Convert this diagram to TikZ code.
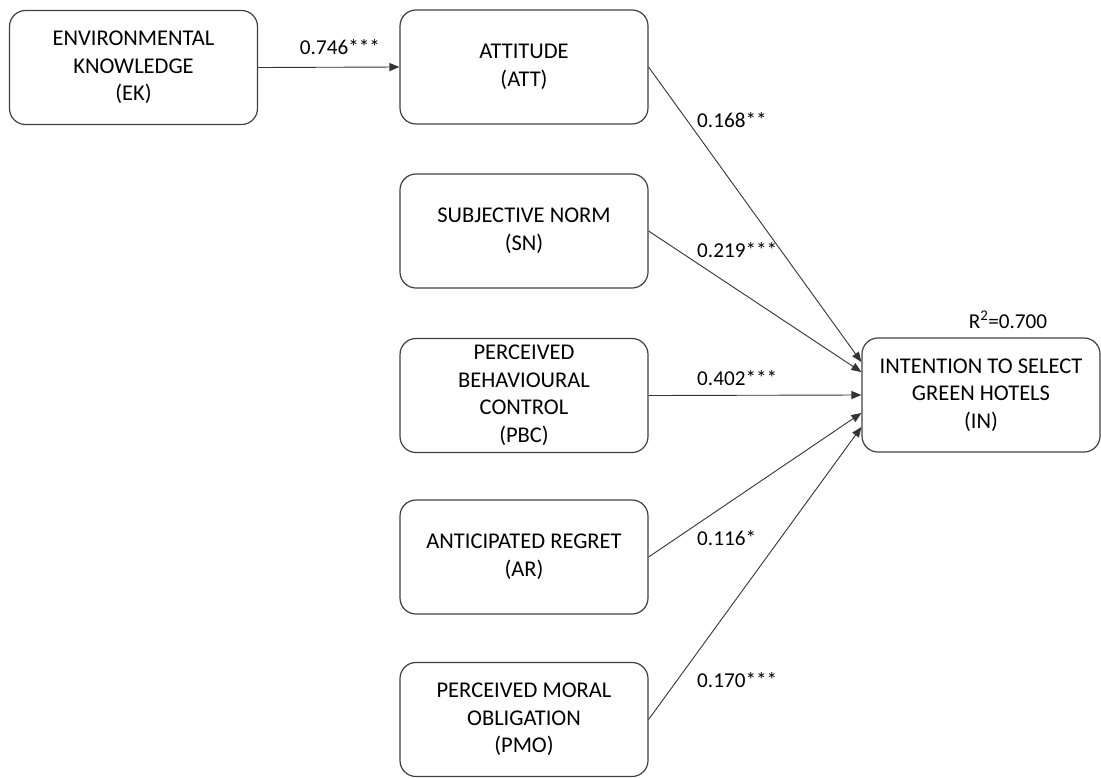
\documentclass[tikz,border=0pt]{standalone}
\usepackage{fontspec}
\setmainfont{Carlito}
\usetikzlibrary{arrows.meta,calc}
\begin{document}
\begin{tikzpicture}[x=1pt,y=-1pt,
  box/.style={draw=black!75,line width=1.2pt,rounded corners=16pt,minimum width=248pt,minimum height=114pt,align=center,inner sep=0pt,font=\fontsize{22.5}{27.5}\selectfont},
  lab/.style={font=\fontsize{21.2}{24}\selectfont,inner sep=0pt},
  conn/.style={draw=black!80,line width=0.9pt,-{Triangle[length=10pt,width=8pt]}}]
\useasboundingbox (0,0) rectangle (1101,777);
\node[box] (EK) at (133.5,67.5) {ENVIRONMENTAL\\KNOWLEDGE\\(EK)};
\node[box] (ATT) at (524,67) {ATTITUDE\\(ATT)};
\node[box] (SN) at (524,231) {SUBJECTIVE NORM\\(SN)};
\node[box] (PBC) at (524,395.5) {PERCEIVED\\BEHAVIOURAL\\CONTROL\\(PBC)};
\node[box] (AR) at (524,557) {ANTICIPATED REGRET\\(AR)};
\node[box] (PMO) at (524,719.5) {PERCEIVED MORAL\\OBLIGATION\\(PMO)};
\node[box,minimum width=238pt] (IN) at (981,395) {INTENTION TO SELECT\\GREEN HOTELS\\(IN)};
\coordinate (t1) at ($(IN.west)+(0,-33)$);
\coordinate (t2) at ($(IN.west)+(0,-23)$);
\coordinate (t4) at ($(IN.west)+(0,18)$);
\coordinate (t5) at ($(IN.west)+(0,32)$);
\draw[conn] (EK.east) -- (ATT.west);
\draw[conn] (ATT.east) -- (t1);
\draw[conn] (SN.east) -- (t2);
\draw[conn] (PBC.east) -- (IN.west);
\draw[conn] (AR.east) -- (t4);
\draw[conn] (PMO.east) -- (t5);
\node[lab] (l1) at (340,47) {0.746***};
\node[lab,anchor=west] (l2) at (697,120) {0.168**};
\node[lab,anchor=west] (l3) at (697,250) {0.219***};
\node[lab,anchor=west] (l4) at (697,378) {0.402***};
\node[lab,anchor=west] (l5) at (697,538) {0.116*};
\node[lab,anchor=west] (l6) at (697,680) {0.170***};
\node[lab] (r2) at (1008,320) {R\textsuperscript{2}=0.700};
\end{tikzpicture}
\end{document}
